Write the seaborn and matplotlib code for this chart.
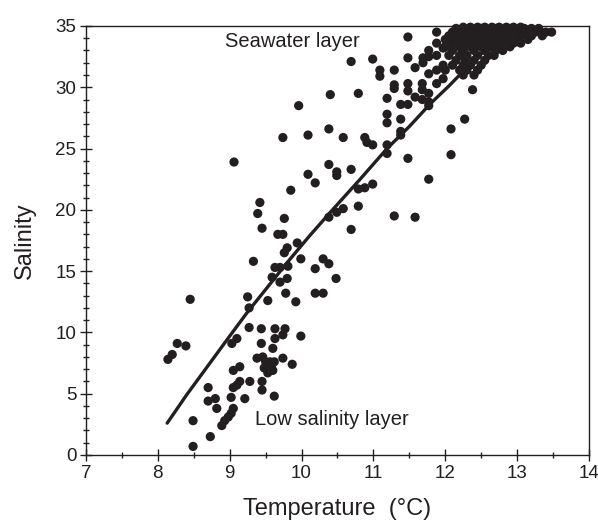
import numpy as np
import pandas as pd
import matplotlib
matplotlib.use("Agg")
import matplotlib.pyplot as plt
import seaborn as sns
from matplotlib.ticker import MultipleLocator

sns.set_theme(style="white")
plt.rcParams['font.family'] = ['Liberation Sans', 'DejaVu Sans']

# ---- data ----
# low-salinity group
low_temp = [8.14, 8.20, 8.27, 8.39, 8.45, 8.49, 8.49, 8.73, 8.70, 8.70, 8.80, 8.82,
            8.89, 8.93, 8.98, 9.02, 9.05, 9.02, 9.05, 9.10, 9.14, 9.21, 9.28,
            9.05, 9.14, 9.03, 9.10, 9.27, 9.44, 9.63, 9.77, 9.74, 9.63, 9.44,
            9.60, 9.38, 9.46, 9.50, 9.56, 9.48, 9.55, 9.53, 9.60, 9.58, 9.62, 9.52,
            9.74, 9.87, 9.45, 9.45, 9.62, 9.99]
low_sal = [7.8, 8.2, 9.1, 8.9, 12.7, 2.8, 0.7, 1.5, 5.5, 4.4, 4.6, 3.8,
           2.4, 2.8, 3.1, 3.4, 3.8, 4.7, 5.5, 5.7, 6.0, 4.6, 6.0,
           6.9, 7.2, 9.1, 9.5, 10.4, 10.3, 10.3, 10.3, 9.8, 9.5, 9.1,
           8.7, 7.9, 8.0, 7.6, 7.6, 7.1, 7.0, 6.7, 6.9, 7.3, 7.6, 7.3,
           7.9, 7.4, 6.0, 5.3, 4.8, 9.7]

# transition group
mid_temp = [9.25, 9.27, 9.53, 9.78, 9.92, 10.19, 10.30,
            9.59, 9.70, 9.80, 10.19, 10.30, 10.38, 10.48,
            9.33, 9.63, 9.70, 9.81, 9.99, 9.76, 9.80, 9.94,
            9.45, 9.67, 9.74, 9.39, 9.42, 9.76, 9.85, 9.06,
            10.09, 10.19, 10.38, 10.49, 10.49, 10.38, 10.49,
            10.58, 10.79, 10.69, 10.79, 10.88, 10.99,
            9.74, 10.09, 10.38, 9.96, 10.40,
            10.58, 10.88, 10.91, 10.99, 11.19, 11.19, 11.48, 10.69,
            11.77, 11.29, 11.58, 12.08, 12.08, 12.27, 12.38,
            10.79, 10.69, 10.99, 11.09, 11.09, 11.29, 11.29, 11.29,
            11.19, 11.19, 11.19, 11.38, 11.48, 11.38, 11.38, 11.38,
            11.48, 11.48, 11.58, 11.68, 11.77, 11.77, 11.77,
            11.48, 11.48, 11.88, 11.58, 11.69, 11.69, 11.77, 11.77, 11.88, 11.88,
            11.77, 11.88, 11.68, 11.68, 11.88, 11.97, 11.97, 11.97, 12.00]
mid_sal = [12.9, 12.0, 12.6, 13.2, 12.5, 13.2, 13.2,
           14.5, 14.1, 14.4, 15.2, 16.0, 15.6, 14.4,
           15.8, 15.3, 15.3, 15.4, 16.0, 16.5, 16.9, 17.3,
           18.5, 18.0, 18.0, 19.7, 20.6, 19.3, 21.6, 23.9,
           22.9, 22.2, 23.7, 23.1, 22.8, 19.4, 19.8,
           20.1, 20.3, 18.4, 21.7, 21.8, 22.1,
           25.9, 26.1, 26.6, 28.5, 29.4,
           25.9, 25.9, 25.5, 25.3, 25.3, 24.6, 24.2, 23.3,
           22.5, 19.5, 19.4, 24.5, 26.6, 27.4, 29.8,
           29.5, 32.1, 32.3, 31.4, 30.9, 31.4, 30.2, 29.9,
           29.1, 27.8, 27.1, 28.6, 28.6, 27.4, 26.4, 26.1,
           30.3, 29.7, 29.2, 29.0, 29.5, 28.8, 28.5,
           32.4, 34.1, 34.5, 31.6, 32.4, 32.0, 33.0, 32.5, 33.6, 32.6,
           31.1, 31.4, 30.3, 29.8, 30.3, 31.8, 30.7, 33.2, 31.4]

# seawater group (dense cluster)
sea_temp = [12.25, 12.35, 12.45, 12.55, 12.65, 12.75, 12.85, 12.95, 13.05,
            12.15, 12.50, 12.70, 12.90, 13.10, 13.20, 13.30,
            12.10, 12.20, 12.30, 12.40, 12.60, 12.80, 13.00, 13.15, 13.25, 13.40, 13.48,
            12.05, 12.20, 12.35, 12.50, 12.65, 12.75, 12.90, 13.05, 13.20, 13.35,
            12.00, 12.15, 12.30, 12.45, 12.60, 12.70, 12.85, 13.00, 13.15,
            12.10, 12.25, 12.40, 12.55, 12.70, 12.80, 12.95, 13.05,
            12.00, 12.20, 12.35, 12.50, 12.62, 12.75, 12.90,
            12.10, 12.25, 12.40, 12.55, 12.70, 12.80,
            12.05, 12.20, 12.30, 12.45, 12.60, 12.68,
            12.15, 12.28, 12.40, 12.55,
            12.10, 12.25, 12.35, 12.50,
            12.20, 12.30, 12.45,
            12.25, 12.40]
sea_sal = [34.9] * 9 + [34.8] * 7 + [34.5] * 11 + [34.2] * 10 + [33.9] * 9 + \
          [33.6] * 8 + [33.3] * 7 + [33.0] * 6 + [32.6] * 6 + [32.2] * 4 + \
          [31.8] * 4 + [31.4] * 3 + [31.0] * 2

# fitted trend line
fit_temp = [8.13, 8.40, 8.70, 9.00, 9.24, 9.50, 9.80, 10.10, 10.40, 10.80,
            11.19, 11.50, 11.80, 12.05, 12.30, 12.60]
fit_sal = [2.6, 4.9, 7.3, 9.7, 11.6, 13.5, 15.7, 17.8, 19.8, 22.4,
           25.0, 26.8, 28.7, 30.1, 31.6, 33.3]

temperature = low_temp + mid_temp + sea_temp
salinity = low_sal + mid_sal + sea_sal
df = pd.DataFrame({"Temperature": temperature, "Salinity": salinity})
fit_df = pd.DataFrame({"Temperature": fit_temp, "Salinity": fit_sal})

ink = "#231f20"

fig = plt.figure(figsize=(5.98, 5.29), dpi=100)
ax = fig.add_axes([0.1438, 0.1399, 0.8411, 0.811])

sns.lineplot(data=fit_df, x="Temperature", y="Salinity", ax=ax, color=ink,
             lw=2.4, sort=True, estimator=None, zorder=2)
sns.scatterplot(data=df, x="Temperature", y="Salinity", ax=ax, color=ink,
                s=44, edgecolor="none", linewidth=0, zorder=3, clip_on=False)

ax.set_xlim(7, 14)
ax.set_ylim(0, 35)
ax.xaxis.set_major_locator(MultipleLocator(1))
ax.xaxis.set_minor_locator(MultipleLocator(0.5))
ax.yaxis.set_major_locator(MultipleLocator(5))
ax.yaxis.set_minor_locator(MultipleLocator(1))
ax.tick_params(axis="both", which="major", direction="inout", length=8, width=1,
               colors=ink, labelsize=13.5, labelcolor=ink, pad=3,
               bottom=True, left=True, top=False, right=False)
ax.tick_params(axis="both", which="minor", direction="inout", length=5, width=1,
               colors=ink, bottom=True, left=True, top=False, right=False)
for sp in ax.spines.values():
    sp.set_visible(True)
    sp.set_color(ink)
    sp.set_linewidth(1.0)

ax.set_xlabel("Temperature  (°C)", fontsize=17, color=ink, labelpad=12)
ax.set_ylabel("Salinity", fontsize=17, color=ink, labelpad=14)

ax.text(9.87, 33.7, "Seawater layer", fontsize=14.5, color=ink, ha="center", va="center")
ax.text(10.42, 2.9, "Low salinity layer", fontsize=14.5, color=ink, ha="center", va="center")

fig.savefig("out.png", dpi=100, facecolor="white")
